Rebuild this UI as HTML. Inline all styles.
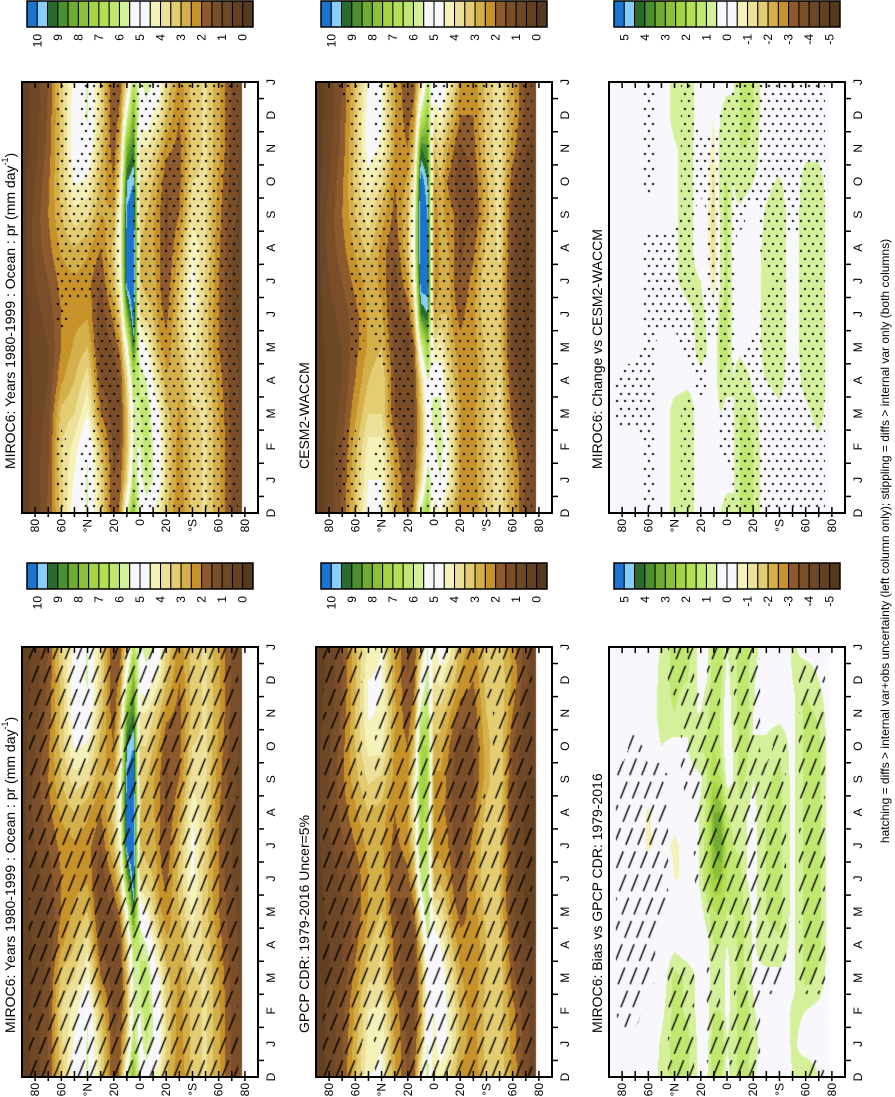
<!DOCTYPE html>
<html><head><meta charset="utf-8">
<style>
html,body{margin:0;padding:0;background:#fff;}
body{width:895px;height:1097px;position:relative;overflow:hidden;font-family:"Liberation Sans",Arial,sans-serif;}
canvas{position:absolute;}
svg{position:absolute;left:0;top:0;}
</style></head>
<body>
<canvas id="p0" width="236" height="431" style="left:22px;top:82px"></canvas>
<canvas id="p1" width="236" height="430" style="left:22px;top:647px"></canvas>
<canvas id="p2" width="236" height="431" style="left:316px;top:82px"></canvas>
<canvas id="p3" width="236" height="430" style="left:316px;top:647px"></canvas>
<canvas id="p4" width="236" height="431" style="left:609px;top:82px"></canvas>
<canvas id="p5" width="236" height="430" style="left:609px;top:647px"></canvas>
<svg id="ov" width="895" height="1097" xmlns="http://www.w3.org/2000/svg"></svg>
<script>
const lats=[90,80,70,60,50,40,30,20,15,10,5,0,-5,-10,-15,-20,-30,-40,-50,-60,-70,-80,-90];
const monthLabels=["D","J","F","M","A","M","J","J","A","S","O","N","D","J"];
const latTickLabels=["80","60","°N","20","0","20","°S","60","80"];
const prTickLabels=["10","9","8","7","6","5","4","3","2","1","0"];
const diffTickLabels=["5","4","3","2","1","0","-1","-2","-3","-4","-5"];
const miroc=[
[0.2,0.2,0.2,0.2,0.2,0.2,0.2,0.2,0.2,0.2,0.2,0.2],
[0.7,0.7,0.6,0.6,0.7,0.8,1.0,1.2,1.2,1.0,0.8,0.7],
[1.5,1.4,1.2,1.0,1.0,1.2,1.5,1.8,2.0,1.9,1.7,1.6],
[3.4,3.5,3.2,2.4,2.0,2.0,2.2,2.6,3.0,3.2,3.2,3.2],
[4.6,4.2,3.5,3.0,2.6,2.3,2.4,3.0,3.8,4.6,5.0,5.0],
[5.6,5.4,4.5,3.8,3.0,2.4,2.2,2.6,3.6,4.4,5.2,5.6],
[3.5,3.0,2.0,1.4,1.1,1.1,1.5,2.0,2.5,2.8,3.2,3.5],
[1.5,1.3,1.2,1.2,1.5,2.2,3.0,3.2,2.6,2.0,1.6,1.5],
[1.8,1.5,1.4,1.5,2.2,3.5,4.5,5.0,4.8,4.0,3.0,2.2],
[3.5,3.0,3.0,3.5,5.0,8.0,10.5,10.5,10.2,9.5,8.0,5.5],
[6.5,5.5,5.5,6.5,9.0,10.5,11,11,10.5,10,9,8],
[5.2,5.5,6.0,6.0,5.0,3.5,3.0,3.0,3.2,3.5,4.0,4.8],
[6.0,6.5,6.5,5.5,4.5,3.2,2.8,2.8,3.0,3.5,4.0,5.0],
[5.5,5.5,5.0,4.5,3.5,3.0,2.8,2.6,2.6,3.0,3.6,4.5],
[4.8,4.8,4.5,3.5,2.6,2.2,2.0,2.0,2.0,2.3,3.0,4.0],
[3.5,3.5,3.2,2.6,2.2,1.8,1.5,1.4,1.4,1.5,2.2,3.0],
[2.2,2.2,2.4,2.6,3.0,3.2,3.0,2.5,2.0,1.8,1.8,2.0],
[3.2,3.2,3.4,3.8,4.2,4.6,4.7,4.4,3.8,3.5,3.2,3.2],
[3.6,3.6,3.6,3.4,3.2,3.2,3.4,3.6,3.6,3.6,3.6,3.6],
[2.6,2.6,2.5,2.3,2.0,2.0,2.0,2.1,2.2,2.4,2.6,2.6],
[1.4,1.4,1.3,1.2,1.1,1.0,1.0,1.0,1.1,1.2,1.3,1.4],
[0.8,0.8,0.8,0.8,0.8,0.8,0.8,0.8,0.8,0.8,0.8,0.8],
[0.8,0.8,0.8,0.8,0.8,0.8,0.8,0.8,0.8,0.8,0.8,0.8]];
const cesm=[
[0.2,0.2,0.2,0.2,0.2,0.2,0.2,0.2,0.2,0.2,0.2,0.2],
[0.7,0.7,0.6,0.6,0.7,0.8,1.0,1.2,1.2,1.0,0.8,0.7],
[1.5,1.4,1.2,1.0,1.0,1.2,1.5,1.8,2.0,1.9,1.7,1.6],
[3.0,2.8,2.4,2.0,1.8,1.8,2.2,2.6,3.0,3.2,3.2,3.1],
[4.5,4.2,3.5,3.0,2.6,2.6,2.7,3.2,3.8,4.3,4.8,4.8],
[4.5,4.2,3.5,3.5,3.0,2.6,2.4,2.3,2.8,3.6,4.4,4.6],
[2.5,2.2,1.5,1.5,1.3,1.2,1.2,1.5,1.8,2.0,2.4,2.5],
[1.5,1.3,1.2,1.0,0.8,1.5,2.5,3.0,3.0,2.6,2.0,1.7],
[1.8,1.5,1.4,1.4,1.8,3.2,4.5,5.2,5.0,4.2,3.2,2.2],
[3.5,3.0,3.0,3.5,5.5,9.0,10.5,11,11,10.5,9.0,6.0],
[6.0,5.0,5.0,5.5,7.5,9.5,10.5,10.5,10,9.5,8.5,7.5],
[5.0,5.3,5.8,5.2,3.8,2.5,2.0,2.0,2.0,2.5,3.0,4.0],
[5.5,6.0,6.0,5.0,4.2,3.0,2.6,2.6,2.8,3.0,3.5,4.5],
[4.5,4.5,4.0,3.8,3.3,3.0,2.8,2.6,2.3,2.0,2.6,3.5],
[3.6,3.6,3.5,3.0,2.6,2.2,2.0,2.0,2.0,1.6,2.0,2.8],
[2.5,2.5,2.5,2.3,2.2,1.8,1.5,1.4,1.4,1.0,1.4,2.0],
[2.2,2.2,2.4,2.2,2.2,2.4,2.2,1.8,1.4,1.5,1.8,2.0],
[3.2,3.2,3.1,3.0,3.2,3.4,3.5,3.2,2.8,2.9,3.2,3.2],
[3.8,3.8,3.8,3.6,3.2,3.2,3.4,3.6,3.8,3.8,3.8,3.8],
[2.6,2.3,1.7,1.3,1.0,1.0,1.0,1.1,1.2,1.6,2.3,2.6],
[1.4,1.2,0.8,0.5,0.4,0.4,0.4,0.4,0.5,0.6,1.0,1.3],
[0.8,0.8,0.8,0.8,0.8,0.8,0.8,0.8,0.8,0.8,0.8,0.8],
[0.8,0.8,0.8,0.8,0.8,0.8,0.8,0.8,0.8,0.8,0.8,0.8]];
const gpcp=[
[0.3,0.3,0.3,0.3,0.3,0.3,0.3,0.3,0.3,0.3,0.3,0.3],
[0.6,0.6,0.5,0.5,0.6,0.7,0.9,1.0,1.0,0.9,0.7,0.6],
[1.4,1.3,1.1,0.9,0.9,1.1,1.4,1.7,1.9,1.8,1.6,1.5],
[2.8,2.6,2.2,1.8,1.6,1.6,2.0,2.4,2.8,3.0,3.0,2.9],
[4.2,4.0,3.4,2.9,2.5,2.5,2.7,3.0,3.6,4.2,4.6,4.5],
[4.5,4.2,3.6,3.5,3.0,2.8,2.6,2.8,3.4,4.2,4.4,4.6],
[2.5,2.4,1.8,1.8,1.5,1.5,1.8,2.0,2.3,2.4,2.6,2.5],
[1.4,1.2,1.1,1.1,1.3,1.8,2.3,2.5,2.4,2.0,1.6,1.5],
[1.6,1.3,1.2,1.3,1.8,2.8,3.5,4.0,4.0,3.2,2.3,1.8],
[3.0,2.6,2.6,3.0,4.5,6.0,7.0,7.2,7.2,7.0,6.0,4.5],
[5.5,5.0,5.0,5.5,6.5,6.5,6.5,6.8,7.0,7.0,6.5,6.0],
[4.2,4.5,5.0,5.0,4.0,2.8,2.3,2.2,2.4,2.8,3.3,3.8],
[5.0,5.2,5.2,4.5,3.8,2.8,2.3,2.2,2.4,2.8,3.3,4.2],
[4.5,4.5,4.2,3.6,3.0,2.5,2.1,1.9,1.9,2.2,2.8,3.6],
[3.8,3.8,3.5,2.8,2.2,1.8,1.5,1.4,1.4,1.6,2.2,3.1],
[2.8,2.8,2.6,2.2,1.8,1.5,1.2,1.1,1.1,1.2,1.7,2.4],
[2.2,2.2,2.1,2.0,2.2,2.4,2.2,1.8,1.4,1.4,1.6,2.0],
[3.2,3.2,3.1,3.0,3.2,3.4,3.5,3.2,2.8,2.8,3.0,3.2],
[3.3,3.3,3.4,3.4,3.0,3.0,3.2,3.4,3.5,3.5,3.5,3.4],
[2.3,2.2,1.7,1.4,1.1,1.1,1.1,1.2,1.3,1.5,2.0,2.4],
[1.2,1.1,0.7,0.5,0.4,0.4,0.4,0.4,0.5,0.6,0.9,1.1],
[0.5,0.5,0.5,0.5,0.5,0.5,0.5,0.5,0.5,0.5,0.5,0.5],
[0.5,0.5,0.5,0.5,0.5,0.5,0.5,0.5,0.5,0.5,0.5,0.5]];
const bias=[
[0,0,0,0,0,0,0,0,0,0,0,0],
[0,0,0,0,0,0,0,0,0,0,0,0],
[0,0,0,0,0,0,0,0,0,0,0,0],
[0,0,0,0,0,0,-0.6,-0.6,0,0,0,0],
[0.6,0.3,0,0,0,0,-0.3,0,0,0.5,0.8,0.7],
[1.2,1.2,1.2,0.3,0,-0.5,-0.6,-0.3,0,0.3,1.0,1.2],
[1.2,0.9,0.9,0,-0.3,-0.5,-0.3,0,0.3,0.5,0.5,1.0],
[0.2,0.2,0.2,0.2,0.3,0.7,0.6,0.6,0.4,1.0,0.5,0.3],
[0.3,0.3,0.3,0.3,0.8,1.5,1.5,1.2,1.0,1.2,0.8,0.5],
[1.5,1.0,0.8,1.0,1.5,2.5,3.0,3.0,2.0,1.5,1.5,1.5],
[1.5,1.0,1.0,1.0,1.5,2.5,3.5,3.0,1.5,1.0,1.0,1.2],
[0.5,0.3,0.2,0.5,1.0,1.5,1.5,1.0,0.3,0,0,0.3],
[0.8,0.8,0.8,0.8,1.0,1.2,1.0,0.8,0.5,0.6,0.8,0.8],
[1.2,1.2,1.2,1.2,1.2,1.2,0.9,0.9,1.2,1.2,1.2,1.2],
[1.2,1.2,0.9,0.9,0.9,0.5,0.5,0.5,0.9,1.2,1.2,1.2],
[0.8,0.6,0.4,0.4,0.3,0.3,0.3,0.3,0.5,0.5,0.5,0.6],
[0,0,0.3,0.9,1.0,1.0,1.0,1.0,0.9,0.6,0.3,0],
[0,0,0.3,0.9,1.2,1.2,1.2,1.2,1.2,0.9,0.3,0],
[0.6,0.6,0.3,0.3,0.3,0.3,0.3,0.3,0.3,0.3,0.3,0.5],
[0.3,0.5,1.2,1.2,1.2,1.2,1.2,1.2,1.2,1.2,1.2,0.8],
[0.3,0.3,0.9,1.2,1.2,1.2,1.2,1.2,1.2,1.2,0.9,0.5],
[0,0,0,0,0,0,0,0,0,0,0,0],
[0,0,0,0,0,0,0,0,0,0,0,0]];
const change=[
[0,0,0,0,0,0,0,0,0,0,0,0],
[0,0,0,0,0,0,0,0,0,0,0,0],
[0,0,0,0,0,0,0,0,0,0,0,0],
[0,0,0,0,0,0,0,0,0,0,0,0],
[0,0,0,0,0,0,0,0,0,0,0,0],
[0.8,0.8,0.8,0.2,0,0,0.4,0.4,0.4,0.4,0.4,0.8],
[1.0,1.0,1.0,0.3,0.1,0.3,0.8,0.8,0.8,0.8,0.8,1.0],
[0,0,0,0.3,0.8,0.8,0.5,0,0,0,0,0],
[0,0,0,0.2,0.5,0.3,0,-0.3,-0.3,-0.3,-0.2,0],
[-0.3,0,0,0,0,-0.3,-1.0,-1.5,-1.5,-1.2,-0.8,-0.5],
[0.2,0.2,0.5,1.0,1.2,1.0,0.6,0.6,0.8,1.0,1.0,0.5],
[0.3,0.2,0.2,0.8,1.2,1.2,1.2,1.2,1.2,1.0,1.0,0.8],
[0.5,0.5,0.5,0.5,0.3,0.3,0.3,0.3,0.3,0.5,0.5,0.5],
[1.0,1.0,1.0,1.0,0.3,0,0,0,0.3,1.0,1.0,1.0],
[1.2,1.2,1.0,0.8,0,0,0,0,0,0.8,1.0,1.2],
[1.0,1.0,0.8,0.3,0,0,0,0,0,0.5,0.8,1.0],
[0,0,0,0.5,0.8,0.8,0.8,0.8,0.6,0.3,0,0],
[0,0,0.3,0.8,1.0,1.0,1.0,1.0,1.0,0.6,0,0],
[0,0,0,0,0,0,0,0,0,0,0,0],
[0,0,0.3,0.8,1.0,1.0,1.0,1.0,1.0,0.8,0.3,0],
[0,0.3,0.8,1.0,1.0,1.0,1.0,1.0,1.0,0.8,0.3,0],
[0,0,0,0,0,0,0,0,0,0,0,0],
[0,0,0,0,0,0,0,0,0,0,0,0]];
// significance masks on 10-degree grid (90..-90), months J..D
const maskLats=[90,80,70,60,50,40,30,20,10,0,-10,-20,-30,-40,-50,-60,-70,-80,-90];
const mirocStip=["000000000000","000000000000","000000000000","110001111111","000000111100","110000111111","111111111111","111111111111","000000000000","111111111111","111111111111","111111111111","111111111111","111111111111","111111111111","111111111111","111111111111","000000000000","000000000000"];
const cesmStip=["000000000000","000000000000","110000000000","110011111111","000001111100","110011111111","111111111111","111111111111","000000000000","111111111111","111111111111","111111111111","111111111111","111111111111","111111111111","111111111111","111111111111","000000000000","000000000000"];
const mirocHatch=["000000000000","111111111111","111111111111","111111111111","111111111111","111111111111","111111111111","111111111111","111111111111","111111111111","111111111111","111111111111","111111111111","111111111111","111111111111","111111111111","111111111111","000000000000","000000000000"];
const gpcpHatch=["000000000000","111111111111","111111111111","111111111111","011111110000","111111111111","111111111111","111111111111","111111111111","111111111111","111111111111","111111111111","111111111111","111111110001","111111111111","111111111111","111111111111","000000000000","000000000000"];
const biasHatch=["000000000000","011111111000","011111111100","001111111000","000011111000","111000000001","111000001111","000001111110","111111111111","100011110000","111111111111","111111111111","001111111000","001111111100","000000000000","001111111111","001111111111","000000000000","000000000000"];
const changeStip=["000000000000","001100000000","001100000000","111111110111","000001110000","000001110000","111011111111","000111000110","000001111110","011111111111","111100001111","111110000111","111111011111","111111111111","111100001111","111111111111","111111111111","000000000000","000000000000"];

const colors=["#1a74d0","#87cefa","#2a6a2a","#4a8f30","#72ab32","#8cc03a","#a5d445","#b5e055","#c0e870","#d5f09a","#f8f8fc","#f8f8fc","#f4f2b8","#ede09a","#e3cc72","#d4b04a","#c8922a","#8c5a2c","#7a4e28","#6e4826","#624020","#553a1e"];
const rgb=colors.map(c=>[parseInt(c.substr(1,2),16),parseInt(c.substr(3,2),16),parseInt(c.substr(5,2),16)]);

function sampleGrid(grid,gl,lat,t,isStr){
  let i=0; while(i<gl.length-2 && lat<gl[i+1]) i++;
  let f=(gl[i]-lat)/(gl[i]-gl[i+1]); f=Math.max(0,Math.min(1,f));
  const mf=t-1, m0=Math.floor(mf), g=mf-m0;
  const a=((m0%12)+12)%12, b=(a+1)%12;
  const val=(r,m)=>isStr?(grid[r][m]==="1"?1:0):grid[r][m];
  const v0=val(i,a)*(1-g)+val(i,b)*g, v1=val(i+1,a)*(1-g)+val(i+1,b)*g;
  return v0*(1-f)+v1*f;
}
function colorIdx(v,top){
  if(v>=top) return 0;
  return Math.min(21,Math.floor((top-v)/0.5)+1);
}
function drawPanel(cv,field,top,mask,kind){
  const W=cv.width,H=cv.height,ctx=cv.getContext('2d');
  const img=ctx.createImageData(W,H);
  const mc=document.createElement('canvas'); mc.width=W; mc.height=H;
  const mctx=mc.getContext('2d'); const mimg=mctx.createImageData(W,H);
  for(let py=0;py<H;py++){
    const t=(H-py-0.5)/H*13;
    for(let px=0;px<W;px++){
      const lat=90-(px+0.5)/W*180;
      const k=(py*W+px)*4;
      if(lat<-77.5){img.data[k]=255;img.data[k+1]=255;img.data[k+2]=255;img.data[k+3]=255;continue;}
      const c=rgb[colorIdx(sampleGrid(field,lats,lat,t,false),top)];
      img.data[k]=c[0];img.data[k+1]=c[1];img.data[k+2]=c[2];img.data[k+3]=255;
      if(sampleGrid(mask,maskLats,lat,t,true)>0.5){mimg.data[k+3]=255;}
    }
  }
  ctx.putImageData(img,0,0);
  mctx.putImageData(mimg,0,0);
  const pc=document.createElement('canvas'); pc.width=W; pc.height=H;
  const p=pc.getContext('2d'); p.fillStyle="#000"; p.strokeStyle="#000";
  if(kind==='stip'){
    for(let y=3,r=0;y<H;y+=7.5,r++){
      for(let x=(r%2?3:7);x<W;x+=8){p.fillRect(Math.round(x),Math.round(y),2,2);}
    }
  } else {
    p.lineWidth=1.4; p.setLineDash([18,7]);
    for(let x=-H*0.4;x<W+10;x+=12){
      p.beginPath(); p.moveTo(x,H); p.lineTo(x+H*0.4,0); p.stroke();
    }
  }
  p.globalCompositeOperation='destination-in'; p.drawImage(mc,0,0);
  ctx.drawImage(pc,0,0);
}
const NS="http://www.w3.org/2000/svg";
const ov=document.getElementById('ov');
function el(tag,attrs){const e=document.createElementNS(NS,tag);for(const k in attrs)e.setAttribute(k,attrs[k]);ov.appendChild(e);return e;}
function rtext(x,y,str,anchor,size,name){
  const e=el('text',{transform:`translate(${x},${y}) rotate(-90)`,'text-anchor':anchor,'dominant-baseline':'central','font-size':size,'font-family':'Liberation Sans, Arial, sans-serif',fill:'#000'});
  e.textContent=str;
  
  
  return e;
}
const panels=[
 {cv:'p0',x:22,y:82,h:431,field:miroc,top:10,mask:mirocStip,kind:'stip',title:'MIROC6: Years 1980-1999 : Ocean : pr (mm day',sup:true,cb:prTickLabels},
 {cv:'p1',x:22,y:647,h:430,field:miroc,top:10,mask:mirocHatch,kind:'hatch',title:'MIROC6: Years 1980-1999 : Ocean : pr (mm day',sup:true,cb:prTickLabels},
 {cv:'p2',x:316,y:82,h:431,field:cesm,top:10,mask:cesmStip,kind:'stip',title:'CESM2-WACCM',cb:prTickLabels},
 {cv:'p3',x:316,y:647,h:430,field:gpcp,top:10,mask:gpcpHatch,kind:'hatch',title:'GPCP CDR: 1979-2016 Uncer=5%',cb:prTickLabels},
 {cv:'p4',x:609,y:82,h:431,field:change,top:5,mask:changeStip,kind:'stip',title:'MIROC6: Change vs CESM2-WACCM',cb:diffTickLabels},
 {cv:'p5',x:609,y:647,h:430,field:bias,top:5,mask:biasHatch,kind:'hatch',title:'MIROC6: Bias vs GPCP CDR: 1979-2016',cb:diffTickLabels}
];
const W=236;
panels.forEach((P,pi)=>{
  drawPanel(document.getElementById(P.cv),P.field,P.top,P.mask,P.kind);
  const bottom=P.y+P.h;
  const fr=el('rect',{x:P.x,y:P.y,width:W,height:P.h,fill:'none',stroke:'#000','stroke-width':2});
  
  
  for(let lat=80;lat>=-80;lat-=10){
    const x=P.x+(90-lat)/180*W;
    const tk=el('path',{d:`M${x},${P.y}v6M${x},${bottom}v-6M${x},${bottom}v4`,stroke:'#000','stroke-width':1.5});
    
    
  }
  latTickLabels.forEach((s,i)=>{
    const lat=80-i*20; const x=P.x+(90-lat)/180*W;
    rtext(x,bottom+6,s,'end',12,'lat-tick-label');
  });
  const dy=P.h/13;
  monthLabels.forEach((s,i)=>{
    rtext(P.x+W+13,bottom-i*dy,s,'middle',12,'month-tick-label');
    if(i<13){
      const y=bottom-(i+0.5)*dy;
      const mt=el('path',{d:`M${P.x+W},${y}h6`,stroke:'#000','stroke-width':1.5});
      
      
    }
  });
  const tt=rtext(P.x-12,bottom-44,P.title,'start',14,'panel-title');
  if(P.sup){
    const s1=document.createElementNS(NS,'tspan'); s1.setAttribute('dy','-5'); s1.setAttribute('font-size','9'); s1.textContent='-1';
    
    
    tt.appendChild(s1);
    const s2=document.createElementNS(NS,'tspan'); s2.setAttribute('dy','5'); s2.textContent=')';
    
    
    tt.appendChild(s2);
  }
  const cbY=P.y<300?1:563, bx=P.x+5, bw=226/22;
  colors.forEach((c,i)=>{
    const r=el('rect',{x:bx+i*bw,y:cbY,width:bw,height:26,fill:c,stroke:'#000','stroke-width':1});
    
    
  });
  const ob=el('rect',{x:bx,y:cbY,width:226,height:26,fill:'none',stroke:'#000','stroke-width':1.5});
  
  
  P.cb.forEach((s,i)=>{
    rtext(bx+(2*i+1)*bw,cbY+33,s,'end',12,'colorbar-label');
  });
});
rtext(885,541,'hatching = diffs > internal var+obs uncertainty (left column only); stippling = diffs > internal var only (both columns)','middle',12,'footnote');
</script>
</body></html>
